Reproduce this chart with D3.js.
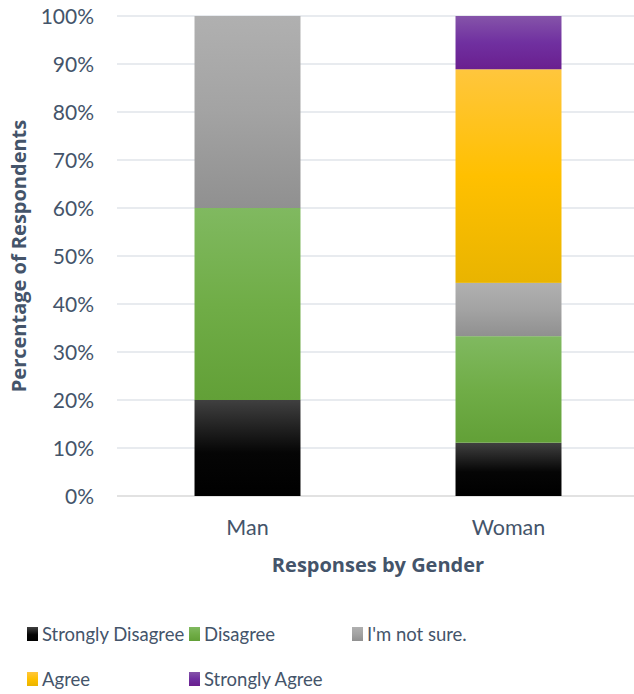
<!DOCTYPE html>
<html>
<head>
<meta charset="utf-8">
<script src="https://cdn.jsdelivr.net/npm/d3@7"></script>
<style>
  html, body { margin: 0; padding: 0; background: #fff; }
  svg { display: block; }
  text { font-family: Lato, "Open Sans", sans-serif; fill: #44546a; }
  text.title { font-family: "Open Sans", Lato, sans-serif; font-weight: bold; }
</style>
</head>
<body>
<svg id="chart" width="634" height="694"></svg>
<script>
// Survey responses, percentage of respondents in each gender group
const genders = ["Man", "Woman"];
const responses = ["Strongly Disagree", "Disagree", "I'm not sure.", "Agree", "Strongly Agree"];
const manValues = [20, 40, 40, 0, 0];
const womanValues = [11.1, 22.2, 11.1, 44.5, 11.1];
const yTicks = [0, 10, 20, 30, 40, 50, 60, 70, 80, 90, 100];

// Gradient stops (top, middle, bottom) for each response
const shades = [
  ["#404040", "#050505", "#000000"],
  ["#80b960", "#70ad47", "#62a037"],
  ["#b0b0b0", "#a3a3a3", "#909090"],
  ["#ffc63d", "#ffc000", "#e9b400"],
  ["#8554a9", "#7030a0", "#6a1f8f"]
];

const svg = d3.select("#chart");
const margin = { left: 117, right: -5, top: 16, bottom: 198 };
const width = 634, height = 694;
const plotW = width - margin.left - margin.right;
const plotH = height - margin.top - margin.bottom;

const table = genders.map((g, i) => {
  const row = { gender: g };
  const vals = i === 0 ? manValues : womanValues;
  responses.forEach((r, j) => row[r] = vals[j]);
  return row;
});

const stacked = d3.stack().keys(responses).offset(d3.stackOffsetExpand)(table);

const x = d3.scaleBand().domain(genders).range([margin.left, margin.left + plotW])
  .paddingInner(0.594).paddingOuter(0.297);
const y = d3.scaleLinear().domain([0, 1]).range([margin.top + plotH, margin.top]);

// Gradients
const defs = svg.append("defs");
responses.forEach((r, i) => {
  const g = defs.append("linearGradient").attr("id", "grad" + i)
    .attr("x1", 0).attr("y1", 0).attr("x2", 0).attr("y2", 1);
  const offs = i === 0 ? [0, 0.55, 1] : [0, 0.5, 1];
  shades[i].forEach((c, k) => g.append("stop").attr("offset", offs[k]).attr("stop-color", c));
});

// Gridlines
svg.append("g").selectAll("line").data(yTicks).join("line")
  .attr("x1", margin.left).attr("x2", margin.left + plotW)
  .attr("y1", d => y(d / 100)).attr("y2", d => y(d / 100))
  .attr("stroke", d => d === 0 ? "#d9d9d9" : "#e1e5ea").attr("stroke-width", 1.5);

// Y tick labels
svg.append("g").selectAll("text").data(yTicks).join("text")
  .attr("x", 94).attr("y", d => y(d / 100)).attr("dy", "0.36em")
  .attr("text-anchor", "end").attr("font-size", 21)
  .text(d => d + "%");

// Bars
svg.append("g").selectAll("g").data(stacked).join("g")
  .attr("fill", (d, i) => `url(#grad${i})`)
  .selectAll("rect").data(d => d.filter(s => s[1] - s[0] > 0)).join("rect")
  .attr("x", d => x(d.data.gender))
  .attr("width", x.bandwidth())
  .attr("y", d => y(d[1]))
  .attr("height", d => y(d[0]) - y(d[1]));

// Category labels
svg.append("g").selectAll("text").data(genders).join("text")
  .attr("x", d => x(d) + x.bandwidth() / 2).attr("y", 535)
  .attr("text-anchor", "middle").attr("font-size", 21.5)
  .text(d => d);

// Axis titles
svg.append("text").attr("class", "title")
  .attr("x", margin.left + plotW / 2).attr("y", 572)
  .attr("text-anchor", "middle").attr("font-size", 20)
  .text("Responses by Gender");

svg.append("text").attr("class", "title")
  .attr("transform", `translate(26,${margin.top + plotH / 2}) rotate(-90)`)
  .attr("text-anchor", "middle").attr("font-size", 20)
  .text("Percentage of Respondents");

// Legend
const legendPos = [
  { x: 27, y: 634 }, { x: 189, y: 634 }, { x: 352, y: 634 },
  { x: 27, y: 679 }, { x: 189, y: 679 }
];
const leg = svg.append("g").selectAll("g").data(responses).join("g")
  .attr("transform", (d, i) => `translate(${legendPos[i].x},${legendPos[i].y})`);
leg.append("rect").attr("x", 0).attr("y", -7).attr("width", 11).attr("height", 14)
  .attr("fill", (d, i) => `url(#grad${i})`);
leg.append("text").attr("x", 15).attr("y", 0).attr("dy", "0.36em")
  .attr("font-size", 18.5).text(d => d);
</script>
</body>
</html>
